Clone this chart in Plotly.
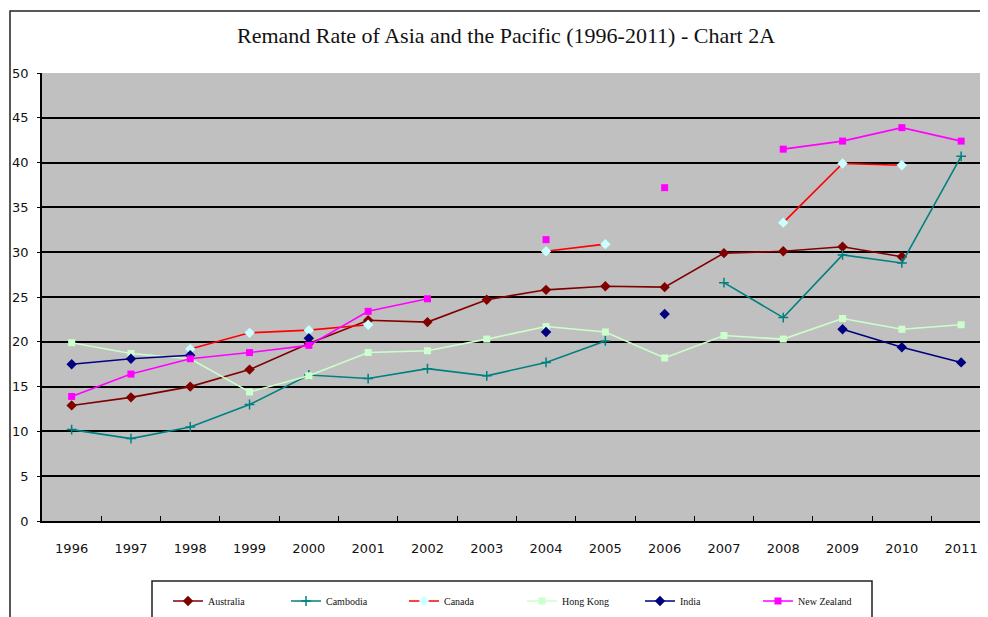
import plotly.graph_objects as go

years = [str(y) for y in range(1996, 2012)]

australia = [12.9, 13.8, 15.0, 16.9, 19.8, 22.4, 22.2, 24.7, 25.8, 26.2, 26.1, 29.9, 30.1, 30.6, 29.5, None]
cambodia = [10.2, 9.2, 10.5, 13.0, 16.3, 15.9, 17.0, 16.2, 17.7, 20.1, None, 26.6, 22.7, 29.7, 28.8, 40.7]
canada = [None, None, 19.2, 21.0, 21.3, 21.9, None, None, 30.1, 30.9, None, None, 33.3, 39.9, 39.7, None]
hong_kong = [19.9, 18.7, 18.1, 14.4, 16.2, 18.8, 19.0, 20.3, 21.7, 21.1, 18.2, 20.7, 20.3, 22.6, 21.4, 21.9]
india = [17.5, 18.1, 18.5, None, 20.4, None, None, None, 21.1, None, 23.1, None, None, 21.4, 19.4, 17.7]
new_zealand = [13.9, 16.4, 18.1, 18.8, 19.6, 23.4, 24.8, None, 31.4, None, 37.2, None, 41.5, 42.4, 43.9, 42.4]

series = [
    ("Australia", australia, "#800000", "#800000", "diamond", 8),
    ("Cambodia", cambodia, "#008080", "#008080", "cross-thin", 7),
    ("Canada", canada, "#FF0000", "#CCFFFF", "diamond", 8),
    ("Hong Kong", hong_kong, "#CCFFCC", "#CCFFCC", "square", 7),
    ("India", india, "#000080", "#000080", "diamond", 8),
    ("New Zealand", new_zealand, "#FF00FF", "#FF00FF", "square", 7),
]

# page body has an 8px margin: work in reference pixels and shift by OFF
OFF = 8
W, H = 988 - OFF, 617 - OFF
L, T, R, B = 42, 73, 988, 521          # plot area in reference pixels
pw, ph = R - L, B - T

def px_x(p):
    return (p - L) / pw

def px_y(p):
    return (B - p) / ph

fig = go.Figure()
for name, vals, lc, mc, sym, sz in series:
    fig.add_trace(go.Scatter(
        x=years, y=vals, name=name, mode="lines+markers",
        connectgaps=False,
        line=dict(color=lc, width=1.6),
        marker=dict(symbol=sym, size=sz, color=mc,
                    line=dict(color=mc, width=1.5 if sym == "cross-thin" else 0)),
    ))

shapes = [
    dict(type="rect", xref="paper", yref="paper",
         x0=px_x(10), x1=px_x(1010), y0=px_y(650), y1=px_y(11),
         line=dict(color="#222222", width=1.5), fillcolor="rgba(0,0,0,0)", layer="below"),
    dict(type="rect", xref="paper", yref="paper",
         x0=px_x(152), x1=px_x(872), y0=px_y(650), y1=px_y(581),
         line=dict(color="#222222", width=1.5), fillcolor="rgba(0,0,0,0)", layer="below"),
]

fig.update_layout(
    width=W, height=H,
    margin=dict(l=L - OFF, r=0, t=T - OFF, b=H - (B - OFF), autoexpand=False),
    paper_bgcolor="white",
    plot_bgcolor="#C0C0C0",
    title=dict(text="Remand Rate of Asia and the Pacific (1996-2011) - Chart 2A",
               font=dict(family="Liberation Serif", size=22, color="#111111"),
               x=px_x(506), xref="paper", xanchor="center",
               y=1 - (35 - OFF) / H, yref="container", yanchor="middle"),
    shapes=shapes,
    showlegend=True,
    legend=dict(orientation="h", x=px_x(168), xanchor="left",
                y=px_y(601), yanchor="middle",
                font=dict(family="Liberation Serif", size=10, color="#111111"),
                bgcolor="rgba(0,0,0,0)", borderwidth=0,
                entrywidth=73, entrywidthmode="pixels",
                traceorder="normal"),
    xaxis=dict(type="category", range=[-0.5, -0.5 + pw / 59.3],
               tickson="boundaries", ticks="inside", ticklen=5, tickcolor="black",
               showgrid=False, showline=True, linecolor="black", linewidth=1.5,
               tickfont=dict(family="DejaVu Sans", size=13, color="#111111"),
               ticklabelstandoff=15, zeroline=False, fixedrange=True),
    yaxis=dict(range=[0, 50], dtick=5, tick0=0,
               showgrid=True, gridcolor="black", gridwidth=2,
               showline=True, linecolor="black", linewidth=1.5,
               ticks="outside", ticklen=3, tickcolor="black",
               tickfont=dict(family="DejaVu Sans", size=13, color="#111111"),
               ticklabelstandoff=6, zeroline=False, fixedrange=True),
)

fig.write_html("out.html")
